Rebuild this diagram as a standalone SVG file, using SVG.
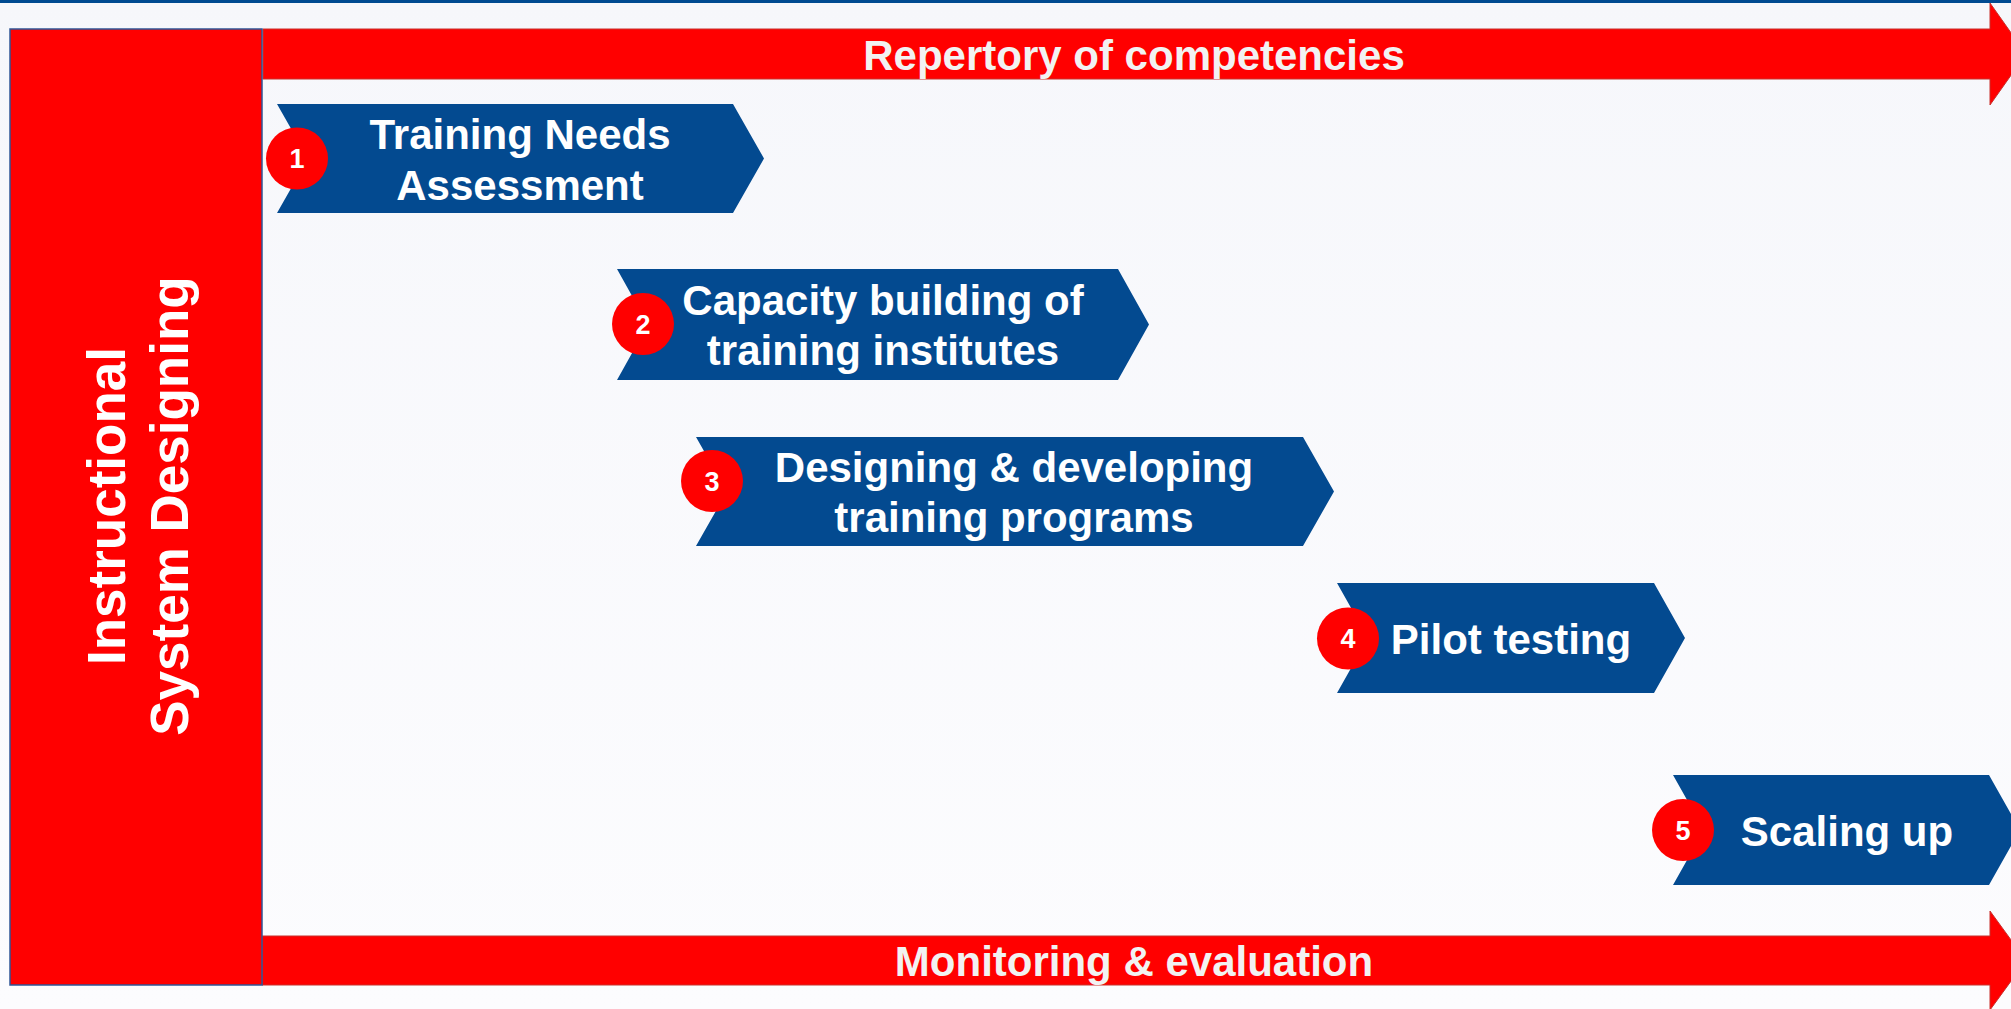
<svg xmlns="http://www.w3.org/2000/svg" width="2011" height="1009" viewBox="0 0 2011 1009">
<defs>
<linearGradient id="bg" x1="0" y1="0" x2="0" y2="1">
<stop offset="0" stop-color="#f6f7fb"/>
<stop offset="1" stop-color="#fcfcfe"/>
</linearGradient>
<style>
.chev{fill:#034a90;}
.num{fill:#ff0000;}
.band{fill:#ff0000;stroke:#c8302c;stroke-width:1;}
.t{font-family:"Liberation Sans",Arial,sans-serif;font-weight:bold;fill:#ffffff;text-anchor:middle;}
.lbl{font-size:42px;}
.bl{fill:#f2f2f2;}
.n{font-size:27px;}
.side{font-size:53px;}
</style>
</defs>
<rect x="0" y="0" width="2011" height="1009" fill="url(#bg)"/>
<rect x="0" y="0" width="2011" height="3" fill="#004a91"/>

<g id="bands">
<polygon class="band" points="263,29 1990,29 1990,3 2026,54 1990,105 1990,79 263,79"/>
<text class="t lbl bl" x="1134" y="70">Repertory of competencies</text>
<polygon class="band" points="262,936 1990,936 1990,911 2026,960.5 1990,1010 1990,985 262,985"/>
<text class="t lbl bl" x="1134" y="976">Monitoring &amp; evaluation</text>
</g>

<g id="isd">
<rect x="10" y="29" width="252" height="956" fill="#ff0000" stroke="#2f5597" stroke-width="1.5"/>
<text class="t side" transform="translate(125,506) rotate(-90)">Instructional</text>
<text class="t side" transform="translate(188,506) rotate(-90)">System Designing</text>
</g>

<g id="step1">
<polygon class="chev" points="277,104 733,104 764,158.5 733,213 277,213 308,158.5"/>
<circle class="num" cx="297" cy="158.5" r="31"/>
<text class="t n" x="297" y="168">1</text>
<text class="t lbl" x="520" y="149">Training Needs</text>
<text class="t lbl" x="520" y="200">Assessment</text>
</g>

<g id="step2">
<polygon class="chev" points="617,269 1118,269 1149,324.5 1118,380 617,380 648,324.5"/>
<circle class="num" cx="643" cy="324" r="31"/>
<text class="t n" x="643" y="334">2</text>
<text class="t lbl" x="883" y="315">Capacity building of</text>
<text class="t lbl" x="883" y="365">training institutes</text>
</g>

<g id="step3">
<polygon class="chev" points="696,437 1303,437 1334,491.5 1303,546 696,546 727,491.5"/>
<circle class="num" cx="712" cy="481" r="31"/>
<text class="t n" x="712" y="491">3</text>
<text class="t lbl" x="1014" y="482">Designing &amp; developing</text>
<text class="t lbl" x="1014" y="532">training programs</text>
</g>

<g id="step4">
<polygon class="chev" points="1337,583 1654,583 1685,638 1654,693 1337,693 1368,638"/>
<circle class="num" cx="1348" cy="638.5" r="31"/>
<text class="t n" x="1348" y="648">4</text>
<text class="t lbl" x="1511" y="654">Pilot testing</text>
</g>

<g id="step5">
<polygon class="chev" points="1673,775 1989,775 2020,830 1989,885 1673,885 1704,830"/>
<circle class="num" cx="1683" cy="830" r="31"/>
<text class="t n" x="1683" y="840">5</text>
<text class="t lbl" x="1847" y="846">Scaling up</text>
</g>
</svg>
